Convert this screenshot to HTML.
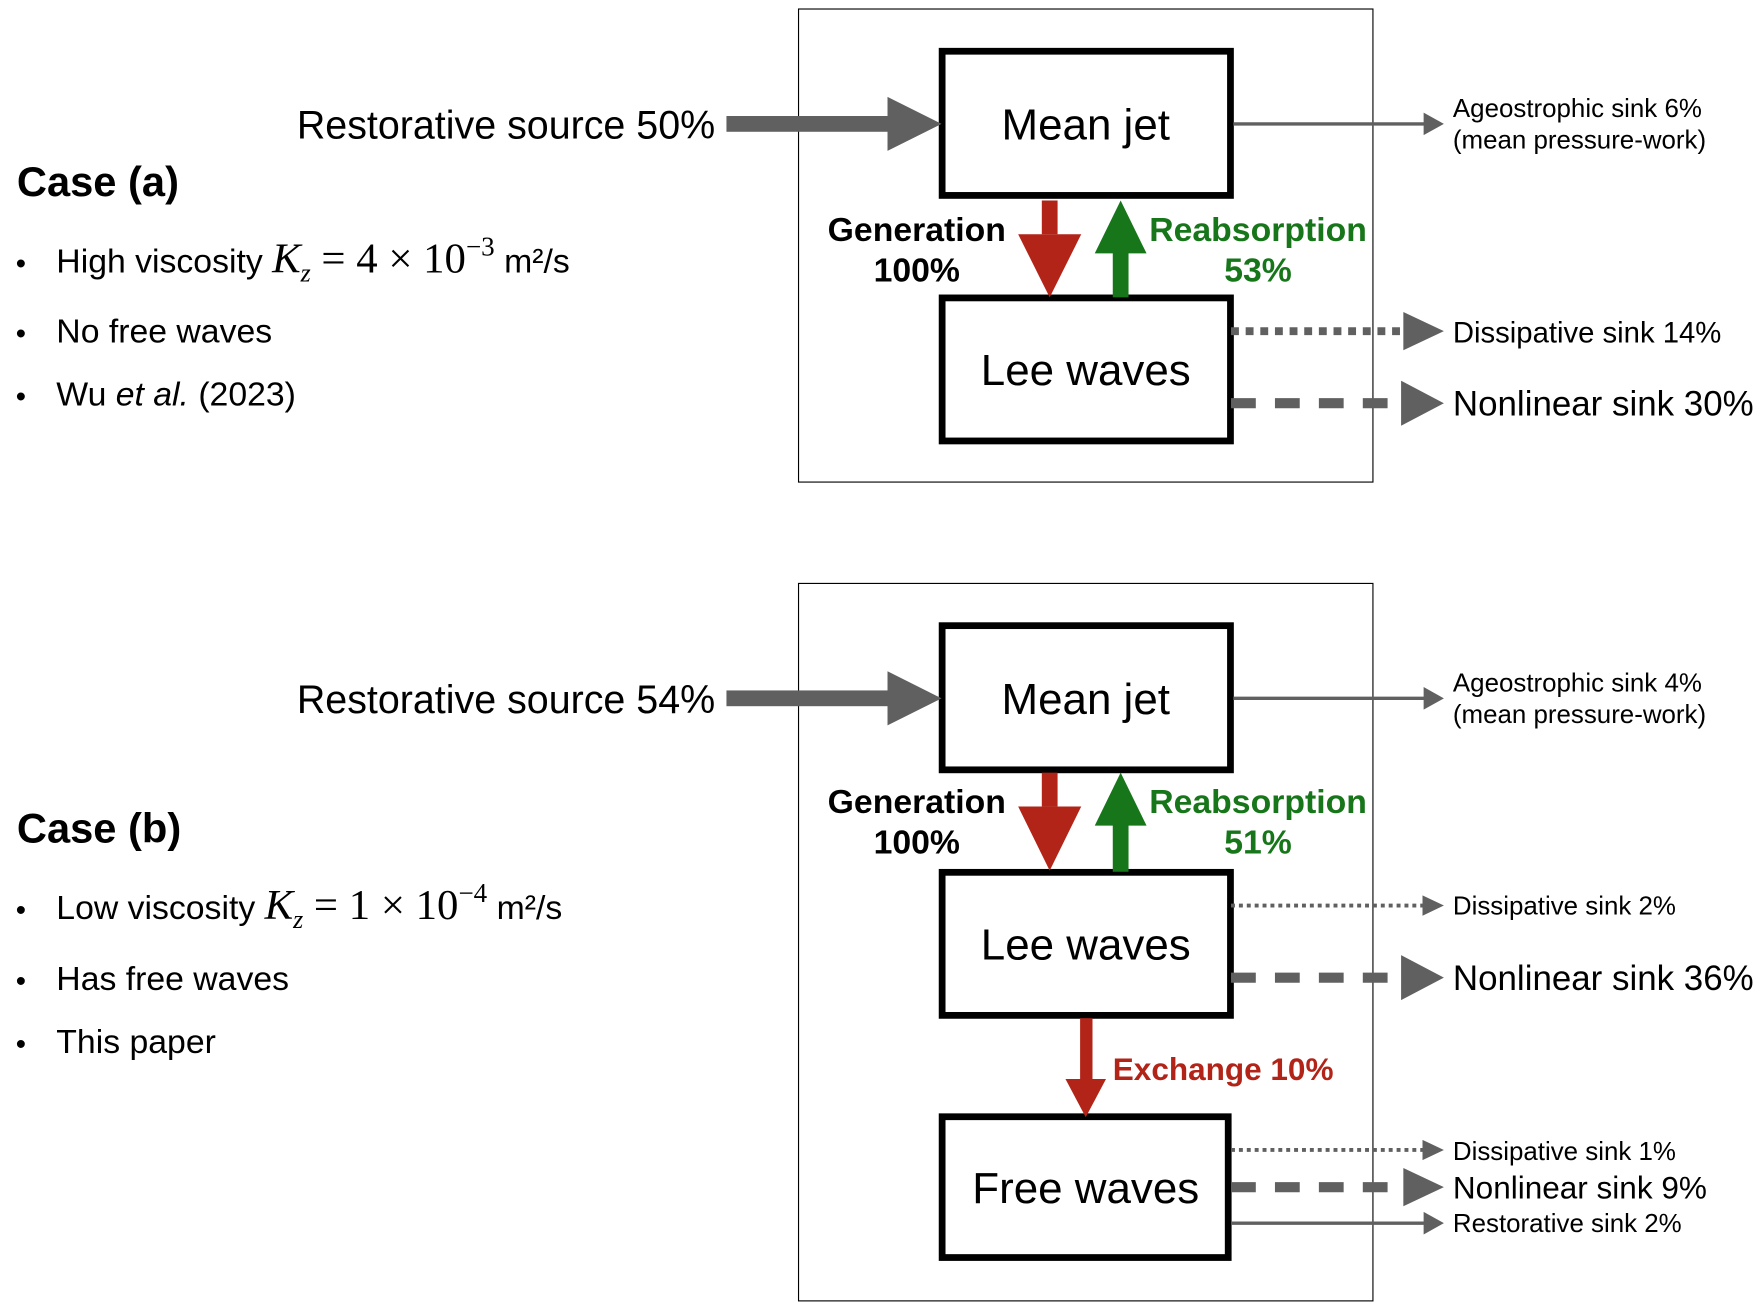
<!DOCTYPE html>
<html><head><meta charset="utf-8">
<style>
html,body{margin:0;padding:0;background:#fff;}
svg{display:block;}
text{font-family:"Liberation Sans",Arial,sans-serif;}
.m{font-family:"Liberation Serif","Times New Roman",serif;}
</style></head>
<body>
<svg width="1757" height="1309" viewBox="0 0 1560 1162.2" preserveAspectRatio="none" xmlns="http://www.w3.org/2000/svg">

<!-- ===== Panel (a) ===== -->
<rect x="709" y="8" width="510" height="420" fill="none" stroke="#000" stroke-width="1"/>
<rect x="836.5" y="45.5" width="256" height="128" fill="none" stroke="#000" stroke-width="6"/>
<rect x="836.5" y="264.5" width="256" height="127" fill="none" stroke="#000" stroke-width="6"/>
<text x="964" y="124" font-size="39" text-anchor="middle">Mean jet</text>
<text x="964" y="342" font-size="39" text-anchor="middle">Lee waves</text>

<text x="635" y="123" font-size="35" text-anchor="end">Restorative source 50%</text>
<rect x="645" y="103" width="146" height="14" fill="#606060"/>
<polygon points="788,86 836,110 788,134" fill="#606060"/>

<rect x="925" y="178" width="14" height="30" fill="#b22418"/>
<polygon points="904,208 960,208 932,264" fill="#b22418"/>
<polygon points="995,178 972,225 1018,225" fill="#17761a"/>
<rect x="988" y="224" width="14" height="40" fill="#17761a"/>
<text x="814" y="214" font-size="30" font-weight="bold" text-anchor="middle">Generation</text>
<text x="814" y="250" font-size="30" font-weight="bold" text-anchor="middle">100%</text>
<text x="1117" y="214" font-size="30" font-weight="bold" fill="#17761a" text-anchor="middle">Reabsorption</text>
<text x="1117" y="250" font-size="30" font-weight="bold" fill="#17761a" text-anchor="middle">53%</text>

<line x1="1095" y1="110" x2="1266" y2="110" stroke="#606060" stroke-width="3"/>
<polygon points="1264,100 1282,110 1264,120" fill="#606060"/>
<text x="1290" y="104" font-size="23">Ageostrophic sink 6%</text>
<text x="1290" y="132" font-size="23">(mean pressure-work)</text>

<line x1="1093" y1="294" x2="1245" y2="294" stroke="#606060" stroke-width="7" stroke-dasharray="7,6"/>
<polygon points="1246,277 1282,294 1246,311" fill="#606060"/>
<text x="1290" y="304" font-size="26">Dissipative sink 14%</text>

<line x1="1093" y1="358" x2="1244" y2="358" stroke="#606060" stroke-width="9" stroke-dasharray="22,17"/>
<polygon points="1244,338 1282,358 1244,378" fill="#606060"/>
<text x="1290" y="369" font-size="31">Nonlinear sink 30%</text>

<text x="15" y="174" font-size="37" font-weight="bold">Case (a)</text>
<text x="14" y="243" font-size="26">•</text>
<text x="50" y="242" font-size="30">High viscosity <tspan class="m" font-style="italic" font-size="38">K</tspan><tspan class="m" font-style="italic" font-size="23" dy="8">z</tspan><tspan class="m" font-size="38" dy="-8"> = 4 × 10</tspan><tspan class="m" font-size="24" dy="-15">−3</tspan><tspan dy="15"> m²/s</tspan></text>
<text x="14" y="305" font-size="26">•</text>
<text x="50" y="304" font-size="30">No free waves</text>
<text x="14" y="361" font-size="26">•</text>
<text x="50" y="360" font-size="30">Wu <tspan font-style="italic">et al.</tspan> (2023)</text>

<!-- ===== Panel (b) ===== -->
<rect x="709" y="518" width="510" height="637" fill="none" stroke="#000" stroke-width="1"/>
<rect x="836.5" y="555.5" width="256" height="128" fill="none" stroke="#000" stroke-width="6"/>
<rect x="836.5" y="774.5" width="256" height="127" fill="none" stroke="#000" stroke-width="6"/>
<rect x="836.5" y="991.5" width="254" height="125" fill="none" stroke="#000" stroke-width="6"/>
<text x="964" y="634" font-size="39" text-anchor="middle">Mean jet</text>
<text x="964" y="852" font-size="39" text-anchor="middle">Lee waves</text>
<text x="964" y="1068" font-size="39" text-anchor="middle">Free waves</text>

<text x="635" y="633" font-size="35" text-anchor="end">Restorative source 54%</text>
<rect x="645" y="613" width="146" height="14" fill="#606060"/>
<polygon points="788,596 836,620 788,644" fill="#606060"/>

<rect x="925" y="686" width="14" height="30" fill="#b22418"/>
<polygon points="904,716 960,716 932,773" fill="#b22418"/>
<polygon points="995,686 972,733 1018,733" fill="#17761a"/>
<rect x="988" y="732" width="14" height="42" fill="#17761a"/>
<text x="814" y="722" font-size="30" font-weight="bold" text-anchor="middle">Generation</text>
<text x="814" y="758" font-size="30" font-weight="bold" text-anchor="middle">100%</text>
<text x="1117" y="722" font-size="30" font-weight="bold" fill="#17761a" text-anchor="middle">Reabsorption</text>
<text x="1117" y="758" font-size="30" font-weight="bold" fill="#17761a" text-anchor="middle">51%</text>

<rect x="959" y="904" width="11" height="55" fill="#b22418"/>
<polygon points="946,958 982,958 964,992" fill="#b22418"/>
<text x="988" y="959" font-size="28" font-weight="bold" fill="#b22418">Exchange 10%</text>

<line x1="1095" y1="620" x2="1266" y2="620" stroke="#606060" stroke-width="3"/>
<polygon points="1264,610 1282,620 1264,630" fill="#606060"/>
<text x="1290" y="614" font-size="23">Ageostrophic sink 4%</text>
<text x="1290" y="642" font-size="23">(mean pressure-work)</text>

<line x1="1093" y1="804" x2="1264" y2="804" stroke="#606060" stroke-width="3.5" stroke-dasharray="3.5,3.5"/>
<polygon points="1263,795 1282,804 1263,813" fill="#606060"/>
<text x="1290" y="812" font-size="23">Dissipative sink 2%</text>

<line x1="1093" y1="868" x2="1244" y2="868" stroke="#606060" stroke-width="9" stroke-dasharray="22,17"/>
<polygon points="1244,848 1282,868 1244,888" fill="#606060"/>
<text x="1290" y="879" font-size="31">Nonlinear sink 36%</text>

<line x1="1093" y1="1021" x2="1264" y2="1021" stroke="#606060" stroke-width="3.5" stroke-dasharray="3.5,3.5"/>
<polygon points="1263,1012 1282,1021 1263,1030" fill="#606060"/>
<text x="1290" y="1030" font-size="23">Dissipative sink 1%</text>

<line x1="1093" y1="1054" x2="1246" y2="1054" stroke="#606060" stroke-width="9" stroke-dasharray="22,17"/>
<polygon points="1246,1037 1282,1054 1246,1071" fill="#606060"/>
<text x="1290" y="1064" font-size="28">Nonlinear sink 9%</text>

<line x1="1093" y1="1086" x2="1266" y2="1086" stroke="#606060" stroke-width="3"/>
<polygon points="1264,1076 1282,1086 1264,1096" fill="#606060"/>
<text x="1290" y="1094" font-size="23">Restorative sink 2%</text>

<text x="15" y="748" font-size="37" font-weight="bold">Case (b)</text>
<text x="14" y="817" font-size="26">•</text>
<text x="50" y="816" font-size="30">Low viscosity <tspan class="m" font-style="italic" font-size="38">K</tspan><tspan class="m" font-style="italic" font-size="23" dy="8">z</tspan><tspan class="m" font-size="38" dy="-8"> = 1 × 10</tspan><tspan class="m" font-size="24" dy="-15">−4</tspan><tspan dy="15"> m²/s</tspan></text>
<text x="14" y="880" font-size="26">•</text>
<text x="50" y="879" font-size="30">Has free waves</text>
<text x="14" y="936" font-size="26">•</text>
<text x="50" y="935" font-size="30">This paper</text>
</svg>
</body></html>
